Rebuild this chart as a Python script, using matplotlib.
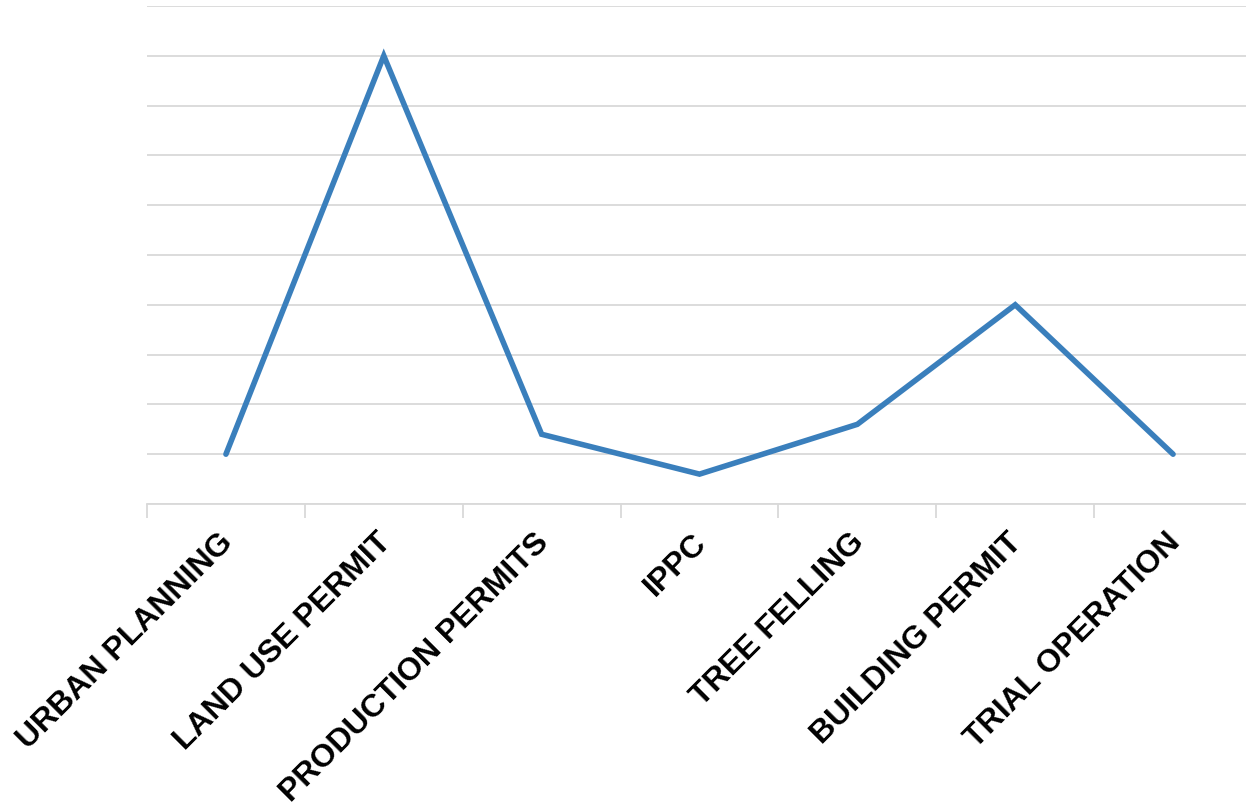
import matplotlib.pyplot as plt
import matplotlib.transforms as mtransforms
import numpy as np

categories = ['URBAN PLANNING', 'LAND USE PERMIT', 'PRODUCTION PERMITS', 'IPPC',
              'TREE FELLING', 'BUILDING PERMIT', 'TRIAL OPERATION']
values = [1, 9, 1.4, 0.6, 1.6, 4, 1]

fig = plt.figure(figsize=(12.46, 8.08), dpi=100)
ax = fig.add_axes([147/1246, 1 - 504/808, 1105/1246, 498/808])

x = np.arange(len(categories))
ax.plot(x, values, color='#3a7fbc', lw=4, solid_capstyle='round',
        solid_joinstyle='miter', zorder=3)

ax.set_xlim(-0.5, len(categories) - 0.5)
ax.set_ylim(0, 10)
ax.set_yticks(np.arange(0, 11, 1))
ax.yaxis.grid(True, color='#d9d9d9', lw=1.3)
ax.set_axisbelow(True)
ax.tick_params(axis='y', left=False, labelleft=False)

ax.set_xticks(np.arange(-0.5, len(categories), 1), minor=False)
ax.set_xticklabels([])
ax.set_xticks(x, minor=True)
ax.set_xticklabels(categories, minor=True, rotation=45, ha='right',
                   rotation_mode='anchor', fontsize=23, fontweight='bold',
                   family='Liberation Sans')
ax.tick_params(axis='x', which='major', length=10, width=1.3, color='#d9d9d9')
ax.tick_params(axis='x', which='minor', length=0, pad=17)

# nudge labels a little to the left
shift = mtransforms.ScaledTranslation(-8/100, 0, fig.dpi_scale_trans)
for lab in ax.get_xticklabels(minor=True):
    lab.set_transform(lab.get_transform() + shift)

for s in ['top', 'right', 'left']:
    ax.spines[s].set_visible(False)
ax.spines['bottom'].set_color('#d9d9d9')
ax.spines['bottom'].set_linewidth(1.3)

fig.savefig('out.png', dpi=100)
